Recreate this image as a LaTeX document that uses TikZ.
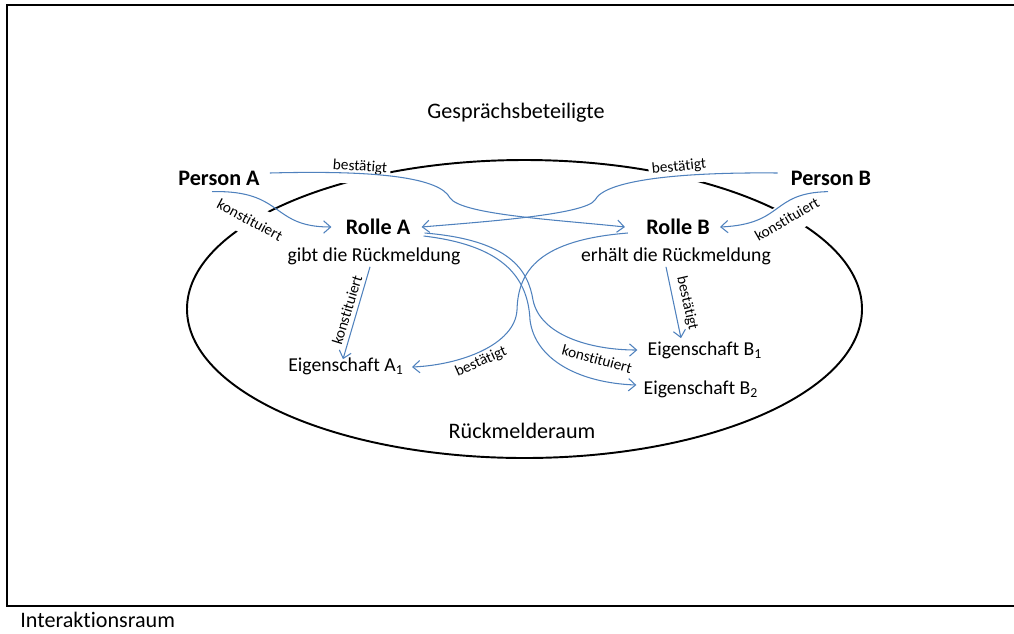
\documentclass[tikz,border=0pt]{standalone}
\usepackage{fontspec}
\setmainfont{Carlito}[Ligatures=NoCommon]
\usepackage{tikz}
\usetikzlibrary{arrows.meta}
\definecolor{fb-blue}{RGB}{79,129,189}
\tikzstyle{textstyle}=[inner sep=0pt,font=\fontsize{12.6}{15}\selectfont]
\tikzstyle{roledescstyle}=[inner sep=0pt,font=\fontsize{11.2}{13}\selectfont]
\tikzstyle{headstyle}=[inner sep=0pt,font=\fontsize{12.6}{15}\selectfont\bfseries]
\tikzstyle{relstyle}=[inner sep=1pt,font=\fontsize{8.7}{10}\selectfont]
\tikzstyle{gapstyle}=[relstyle,fill=white,inner xsep=2pt,inner ysep=6pt]
\tikzstyle{arrowstyle}=[draw=fb-blue,line width=0.6pt,-{Straight Barb[length=4pt,width=7pt]}]
\newcommand{\fbtext}[5]{ \node[style=#5] (#1) at (#2,#3) {#4}; }
\newcommand{\fbrel}[6]{ \node[style=#6,rotate=#4] (#1) at (#2,#3) {#5}; }

\begin{document}
\begin{tikzpicture}[x=0.02cm,y=-0.02cm]
\useasboundingbox (0,0) rectangle (1014,633);
% Interaktionsraum und Rueckmelderaum
\draw[line width=1.3pt] (1020,5) -- (7,5) -- (7,606) -- (1020,606);
\draw[line width=1.1pt] (524.5,309) ellipse (337.5 and 149);
\node[textstyle,anchor=west] (ir) at (20,620) {Interaktionsraum};
\fbtext{gb}{516}{113}{Gesprächsbeteiligte}{textstyle} %
\fbtext{rm}{522}{431}{Rückmelderaum}{textstyle} %
% Personen und Rollen
\fbtext{pa}{219}{178}{Person A}{headstyle} %
\fbtext{pb}{831}{178}{Person B}{headstyle} %
\fbtext{ra}{378}{227}{Rolle A}{headstyle} %
\fbtext{rb}{678}{227}{Rolle B}{headstyle} %
\fbtext{ga}{374}{256}{gibt die Rückmeldung}{roledescstyle} %
\fbtext{eh}{676}{256}{erhält die Rückmeldung}{roledescstyle} %
\fbtext{ea}{346}{366}{Eigenschaft A\textsubscript{1}}{roledescstyle} %
\fbtext{eb1}{705}{350}{Eigenschaft B\textsubscript{1}}{roledescstyle} %
\fbtext{eb2}{701}{389}{Eigenschaft B\textsubscript{2}}{roledescstyle} %
% Beschriftungen
\fbrel{la}{360}{167}{-4}{bestätigt}{gapstyle} %
\fbrel{lb}{679}{167}{6}{bestätigt}{gapstyle} %
\fbrel{lc}{250}{220}{-28}{konstituiert}{gapstyle} %
\fbrel{ld}{787}{219}{30}{konstituiert}{gapstyle} %
\fbrel{le}{347}{310}{73}{konstituiert}{relstyle} %
\fbrel{lf}{481}{362}{24}{bestätigt}{relstyle} %
\fbrel{lg}{597}{359}{-15}{konstituiert}{relstyle} %
\fbrel{lh}{687}{303}{-77}{bestätigt}{relstyle} %
% Pfeile
\draw[arrowstyle] ([shift={(-7,6)}]pa.south) .. controls (285,190) and (270,227) .. ([shift={(-14,0)}]ra.west);
\draw[arrowstyle] ([shift={(10,-5)}]pa.east) .. controls (380,170) and (440,178) .. (450,198) .. controls (462,215) and (560,220) .. ([shift={(-21,0)}]rb.west);
\draw[arrowstyle] ([shift={(-13,-5)}]pb.west) .. controls (680,172) and (605,180) .. (595,200) .. controls (585,215) and (480,222) .. ([shift={(11,0)}]ra.east);
\draw[arrowstyle] ([shift={(-3,6)}]pb.south) .. controls (770,193) and (785,224) .. ([shift={(10,0)}]rb.east);
\draw[arrowstyle] ([shift={(14,6)}]ra.east) .. controls (510,240) and (528,270) .. (533,300) .. controls (540,335) and (590,350) .. ([shift={(-10,0)}]eb1.west);
\draw[arrowstyle] ([shift={(13,9)}]ra.east) .. controls (500,245) and (528,275) .. (530,320) .. controls (535,360) and (580,383) .. ([shift={(-7,-4)}]eb2.west);
\draw[arrowstyle] ([shift={(-18,6)}]rb.west) .. controls (540,240) and (518,270) .. (517,310) .. controls (515,345) and (460,365) .. ([shift={(8,1)}]ea.east);
\draw[arrowstyle] ([shift={(-4,2)}]ga.south) -- ([shift={(-3,2)}]ea.north);
\draw[arrowstyle] ([shift={(-10,2)}]eh.south) -- ([shift={(-24,-3)}]eb1.north);
\end{tikzpicture}
\end{document}
